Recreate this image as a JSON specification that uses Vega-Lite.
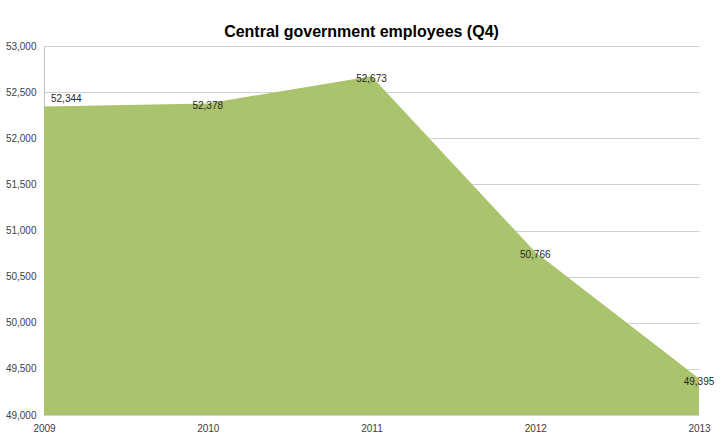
{
  "$schema": "https://vega.github.io/schema/vega-lite/v6.json",
  "width": 655,
  "height": 369,
  "autosize": {"type": "none"},
  "padding": {"left": 44, "top": 46, "right": 24, "bottom": 26},
  "background": "white",
  "title": {
    "text": "Central government employees (Q4)",
    "font": "Liberation Sans",
    "fontSize": 16,
    "fontWeight": "bold",
    "color": "#000000",
    "anchor": "middle",
    "baseline": "bottom",
    "offset": 4,
    "dx": -10,
    "dy": 19
  },
  "data": {
    "values": [
      {"year": "2009", "employees": 52344},
      {"year": "2010", "employees": 52378},
      {"year": "2011", "employees": 52673},
      {"year": "2012", "employees": 50766},
      {"year": "2013", "employees": 49395}
    ]
  },
  "encoding": {
    "x": {
      "field": "year",
      "type": "ordinal",
      "scale": {"type": "point", "padding": 0},
      "axis": {
        "title": null,
        "labelAngle": 0,
        "domain": false,
        "ticks": false,
        "labelPadding": 8,
        "labelFont": "Liberation Sans",
        "labelFontSize": 10,
        "labelColor": "#404040",
        "grid": false
      }
    },
    "y": {
      "field": "employees",
      "type": "quantitative",
      "scale": {"domain": [49000, 53000], "nice": false, "zero": false},
      "axis": {
        "title": null,
        "values": [49000, 49500, 50000, 50500, 51000, 51500, 52000, 52500, 53000],
        "format": ",d",
        "ticks": false,
        "labelPadding": 8,
        "labelFont": "Liberation Sans",
        "labelFontSize": 10,
        "labelColor": "#404040",
        "domainColor": "#BFBFBF",
        "domainWidth": 1,
        "gridColor": "#D0D0D0",
        "gridWidth": 1
      }
    }
  },
  "layer": [
    {
      "mark": {"type": "area", "color": "#AAC46D", "line": false},
      "encoding": {"y2": {"datum": 49000}}
    },
    {
      "transform": [{"filter": "datum.year == '2009'"}],
      "mark": {
        "type": "text",
        "font": "Liberation Sans",
        "fontSize": 10,
        "color": "#262626",
        "baseline": "middle",
        "align": "left",
        "dx": 7,
        "dy": -8,
        "clip": false
      },
      "encoding": {
        "text": {"field": "employees", "type": "quantitative", "format": ","}
      }
    },
    {
      "transform": [{"filter": "datum.year != '2009'"}],
      "mark": {
        "type": "text",
        "font": "Liberation Sans",
        "fontSize": 10,
        "color": "#262626",
        "baseline": "middle",
        "align": "center",
        "dx": 0,
        "dy": 3,
        "clip": false
      },
      "encoding": {
        "text": {"field": "employees", "type": "quantitative", "format": ","}
      }
    }
  ],
  "config": {
    "view": {"stroke": null}
  }
}
